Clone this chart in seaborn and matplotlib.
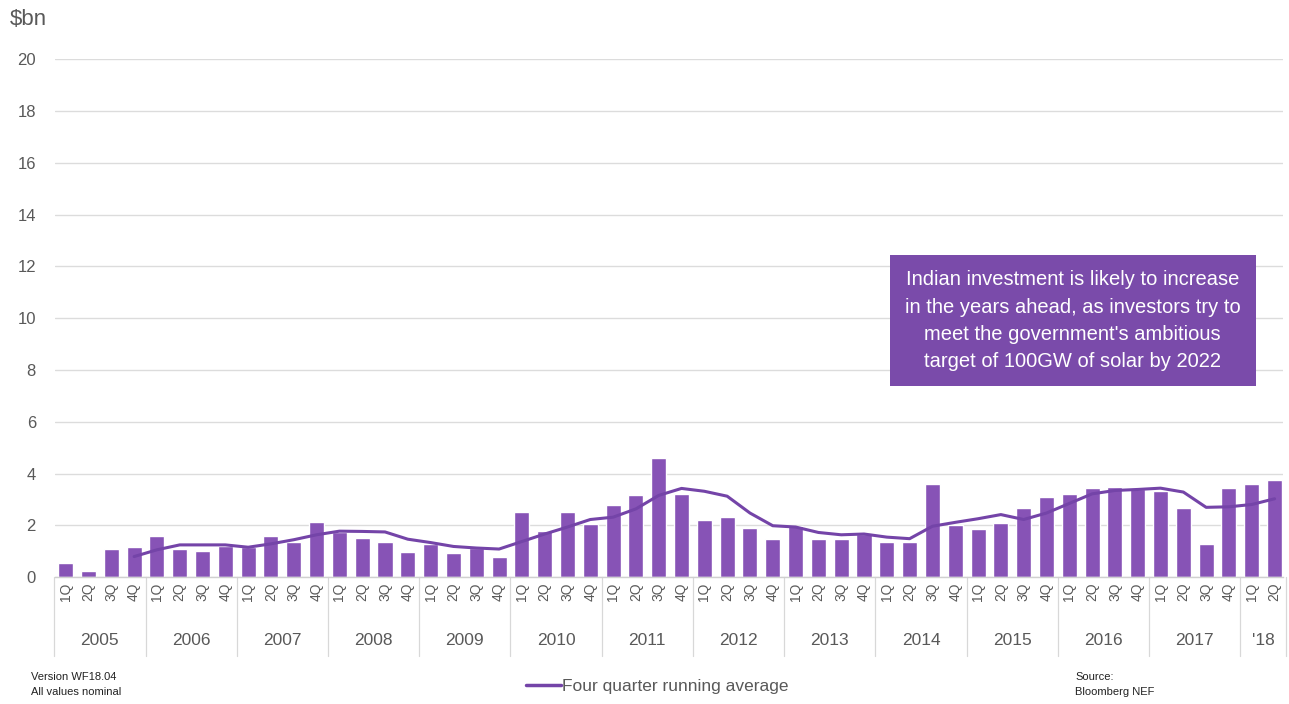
import numpy as np
import pandas as pd
import matplotlib
matplotlib.use("Agg")
import matplotlib.pyplot as plt
import matplotlib.transforms as mtransforms
from matplotlib.lines import Line2D
import seaborn as sns

years = ["2005", "2006", "2007", "2008", "2009", "2010", "2011", "2012",
         "2013", "2014", "2015", "2016", "2017", "'18"]
quarters = ["1Q", "2Q", "3Q", "4Q"]

investment = [0.54, 0.26, 1.09, 1.16,
              1.60, 1.11, 1.03, 1.22,
              1.16, 1.60, 1.38, 2.12,
              1.75, 1.50, 1.35, 0.98,
              1.27, 0.93, 1.13, 0.80,
              2.51, 1.80, 2.51, 2.06,
              2.78, 3.16, 4.59, 3.22,
              2.20, 2.34, 1.90, 1.47,
              1.97, 1.47, 1.49, 1.68,
              1.37, 1.37, 3.61, 2.00,
              1.86, 2.10, 2.69, 3.10,
              3.22, 3.43, 3.49, 3.39,
              3.32, 2.69, 1.29, 3.44,
              3.61, 3.76]

running_avg = [0.80,
               1.06, 1.25, 1.25, 1.25,
               1.16, 1.29, 1.45, 1.64,
               1.78, 1.77, 1.75, 1.47,
               1.34, 1.19, 1.13, 1.09,
               1.38, 1.67, 1.94, 2.23,
               2.32, 2.64, 3.16, 3.43,
               3.32, 3.13, 2.48, 1.99,
               1.94, 1.73, 1.64, 1.67,
               1.55, 1.49, 1.97, 2.12,
               2.26, 2.42, 2.23, 2.48,
               2.85, 3.22, 3.35, 3.39,
               3.44, 3.29, 2.70, 2.72,
               2.81, 3.03]

y_ticks = [0, 2, 4, 6, 8, 10, 12, 14, 16, 18, 20]

annotation = ("Indian investment is likely to increase\n"
              "in the years ahead, as investors try to\n"
              "meet the government's ambitious\n"
              "target of 100GW of solar by 2022")

# ---- build tables ----
n = len(investment)
q_labels = [quarters[i % 4] for i in range(n)]
cats = [f"{years[i // 4]} {quarters[i % 4]}" for i in range(n)]
df = pd.DataFrame({"period": cats, "value": investment})
start = n - len(running_avg)
df_avg = pd.DataFrame({"pos": np.arange(start, n), "avg": running_avg})

bar_color = "#8753B6"
line_color = "#7444A8"
box_color = "#7A4BAA"
text_gray = "#595959"
grid_gray = "#DCDCDC"

sns.set_theme(style="white")
plt.rcParams["font.family"] = ["Liberation Sans", "DejaVu Sans"]

fig = plt.figure(figsize=(12.89, 7.04), dpi=100)
ax = fig.add_axes([0.043, 0.180, 0.952, 0.736])

sns.barplot(data=df, x="period", y="value", order=cats, color=bar_color,
            width=0.66, saturation=1, ax=ax, zorder=2)
sns.lineplot(data=df_avg, x="pos", y="avg", color=line_color, linewidth=2.2,
             ax=ax, zorder=3)

ax.set_xlim(-0.45, n - 1 + 0.35)
ax.set_ylim(0, 20)
ax.set_yticks(y_ticks)
ax.set_yticklabels([str(v) for v in y_ticks], fontsize=12, color=text_gray)
ax.yaxis.grid(True, color=grid_gray, linewidth=1.0, zorder=0)
ax.set_axisbelow(True)
ax.tick_params(axis="y", length=0, pad=14)
ax.set_xticks(range(n))
ax.set_xticklabels(q_labels, rotation=90, fontsize=10, color=text_gray)
ax.tick_params(axis="x", length=0, pad=4)
ax.set_xlabel("")
ax.set_ylabel("")
for s in ["top", "right", "left"]:
    ax.spines[s].set_visible(False)
ax.spines["bottom"].set_color("#D0D0D0")
ax.spines["bottom"].set_linewidth(1.0)

# year separators and labels
trans = mtransforms.blended_transform_factory(ax.transData, ax.transAxes)
bounds = list(range(0, n, 4)) + [n]
for b in bounds:
    ax.plot([b - 0.5, b - 0.5], [0, -0.152], transform=trans, color="#D8D8D8",
            linewidth=0.9, clip_on=False)
for i, yr in enumerate(years):
    lo = i * 4
    hi = min(lo + 4, n)
    ax.text((lo + hi - 1) / 2, -0.122, yr, transform=trans, ha="center",
            va="center", fontsize=12.5, color=text_gray)

# unit label
fig.text(0.008, 0.972, "$bn", fontsize=16, color=text_gray, ha="left", va="center")

# annotation box
ax.text(44.15, 9.9, annotation, ha="center", va="center", fontsize=14.5,
        color="white", linespacing=1.55, zorder=5,
        bbox=dict(boxstyle="square,pad=0.75", facecolor=box_color,
                  edgecolor="none"))

# footer
fig.text(0.024, 0.028, "Version WF18.04\nAll values nominal", fontsize=8,
         color="#222222", ha="left", va="center", linespacing=1.6)
fig.text(0.834, 0.028, "Source:\nBloomberg NEF", fontsize=8,
         color="#222222", ha="left", va="center", linespacing=1.6)

handle = Line2D([0], [0], color=line_color, linewidth=2.5)
fig.legend([handle], ["Four quarter running average"], loc="center",
           bbox_to_anchor=(0.51, 0.025), frameon=False, fontsize=12.5,
           handlelength=2.0, handletextpad=0.05, labelcolor=text_gray)

fig.savefig("out.png", dpi=100)
